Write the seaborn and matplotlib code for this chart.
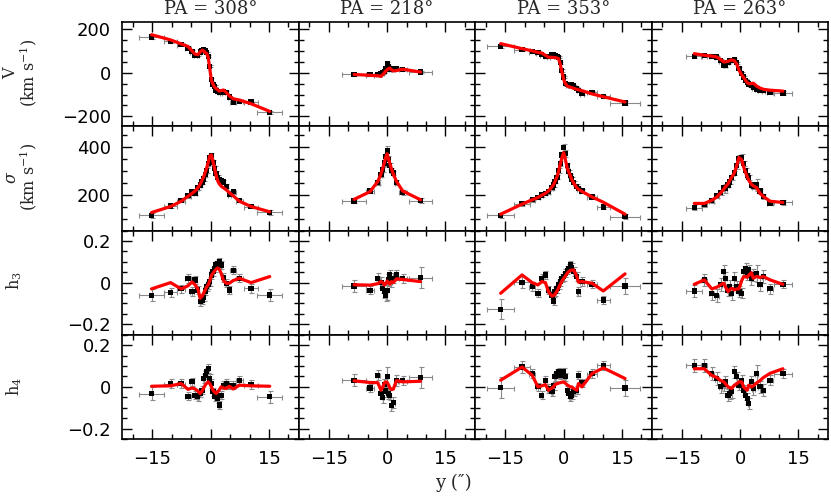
import numpy as np
import matplotlib
matplotlib.use("Agg")
import matplotlib.pyplot as plt
import seaborn as sns
from matplotlib.ticker import FixedLocator, MultipleLocator

# Column titles (position angles)
pa_labels = ["PA = 308°", "PA = 218°", "PA = 353°", "PA = 263°"]

# ---- PA = 308 ----
y_308 = [-15.2, -10.3, -7.6, -5.8, -4.8, -4.0, -3.3, -2.7, -2.2, -1.8, -1.4, -1.0, -0.6, -0.2,
         0.2, 0.6, 1.0, 1.4, 1.8, 2.2, 2.7, 3.3, 4.0, 4.8, 5.8, 7.4, 10.4, 15.2]
dy_308 = [3.2, 1.7, 1.0, 0.7, 0.45, 0.4, 0.3, 0.25, 0.2, 0.2, 0.2, 0.2, 0.2, 0.2,
          0.2, 0.2, 0.2, 0.2, 0.2, 0.2, 0.25, 0.3, 0.4, 0.45, 0.7, 1.0, 1.7, 3.2]
v_308 = [163, 143, 128, 112, 97, 80, 80, 95, 102, 106, 100, 92, 75, 30,
         -30, -55, -62, -80, -86, -88, -92, -85, -90, -111, -134, -130, -134, -181]
vmod_308 = [174, 150, 132, 120, 100, 85, 82, 95, 103, 100, 92, 88, 68, 15,
            -35, -52, -66, -72, -78, -84, -82, -79, -90, -106, -119, -125, -142, -177]
verr_308 = [8, 6, 5, 5, 5, 5, 5, 5, 5, 5, 5, 5, 5, 6, 6, 5, 5, 5, 5, 5, 5, 5, 5, 5, 5, 5, 6, 8]
s_308 = [114, 152, 175, 195, 212, 205, 228, 240, 252, 265, 282, 300, 328, 355,
         362, 335, 310, 288, 272, 262, 258, 252, 235, 200, 212, 175, 150, 126]
smod_308 = [125, 150, 172, 193, 205, 215, 228, 243, 260, 274, 292, 312, 336, 362,
            365, 338, 310, 282, 258, 245, 235, 228, 220, 208, 195, 172, 150, 128]
serr_308 = [10, 8, 8, 8, 8, 8, 8, 8, 8, 8, 9, 10, 10, 12, 12, 10, 10, 9, 8, 8, 8, 8, 8, 8, 8, 8, 8, 10]
h3_308 = [-0.06, -0.046, -0.03, 0.02, -0.043, 0.013, -0.035, -0.09, -0.083, -0.07, -0.04, -0.02, -0.01, 0.005,
          0.037, 0.053, 0.069, 0.085, 0.093, 0.1, 0.085, 0.025, -0.003, -0.035, 0.06, 0.021, -0.027, -0.059]
h3mod_308 = [-0.03, 0.0, -0.03, -0.015, 0.003, -0.01, -0.03, -0.075, -0.065, -0.05, -0.035, -0.02, -0.01, 0.01,
             0.035, 0.045, 0.055, 0.065, 0.07, 0.065, 0.045, 0.01, -0.003, -0.003, 0.01, 0.021, 0.0, 0.029]
h4_308 = [-0.032, 0.016, 0.016, -0.045, 0.024, -0.04, -0.048, -0.03, -0.016, 0.04, 0.056, 0.072, 0.088, 0.04,
          0.016, -0.024, -0.048, -0.035, -0.056, -0.087, -0.04, 0.008, 0.016, 0.008, 0.008, 0.032, 0.01, -0.048]
h4mod_308 = [0.003, 0.005, 0.016, -0.012, -0.005, -0.01, -0.02, -0.032, -0.02, -0.005, 0.008, 0.018, 0.024, 0.015,
             0.0, -0.016, -0.025, -0.032, -0.025, -0.015, 0.0, -0.005, -0.008, 0.003, -0.01, 0.008, 0.005, 0.003]
herr_308 = [0.03, 0.022, 0.02, 0.02, 0.02, 0.02, 0.02, 0.02, 0.02, 0.02, 0.02, 0.02, 0.02, 0.02,
            0.02, 0.02, 0.02, 0.02, 0.02, 0.02, 0.02, 0.02, 0.02, 0.02, 0.02, 0.02, 0.022, 0.03]

# ---- PA = 218 ----
y_218 = [-8.5, -4.4, -2.4, -1.6, -1.1, -0.7, -0.35, 0.0, 0.35, 0.7, 1.1, 1.6, 2.4, 4.0, 8.6]
dy_218 = [3.1, 1.0, 0.5, 0.3, 0.2, 0.2, 0.2, 0.2, 0.2, 0.2, 0.2, 0.3, 0.5, 1.0, 3.0]
v_218 = [-8, -10, -8, -5, 0, 5, 18, 40, 28, 15, 18, 15, 20, 15, 3]
vmod_218 = [-8, -12, -14, -17, -8, 0, 8, 14, 18, 21, 14, 8, 10, 16, 3]
verr_218 = [6, 5, 5, 5, 5, 5, 6, 8, 6, 5, 5, 5, 5, 5, 6]
s_218 = [173, 215, 250, 282, 305, 332, 360, 382, 345, 320, 300, 290, 250, 210, 175]
smod_218 = [180, 212, 255, 285, 311, 335, 355, 370, 350, 330, 308, 285, 255, 215, 178]
serr_218 = [10, 10, 10, 10, 10, 12, 15, 20, 15, 12, 10, 10, 10, 10, 12]
h3_218 = [-0.016, -0.036, 0.02, 0.0, -0.027, -0.043, -0.059, -0.036, 0.013, 0.037, 0.005, 0.021, 0.037, 0.02, 0.023]
h3mod_218 = [-0.01, -0.012, -0.005, 0.005, 0.0, -0.012, -0.005, 0.008, 0.0, -0.008, 0.005, 0.0, 0.018, 0.015, 0.005]
h4_218 = [0.032, -0.005, 0.056, -0.03, -0.05, 0.01, -0.02, 0.05, -0.03, -0.04, -0.09, -0.075, 0.03, 0.03, 0.045]
h4mod_218 = [0.029, 0.021, 0.02, -0.016, 0.0, 0.02, 0.024, 0.022, 0.01, -0.005, -0.013, -0.01, 0.03, 0.024, 0.027]
herr_218 = [0.03, 0.02, 0.025, 0.025, 0.025, 0.03, 0.03, 0.045, 0.03, 0.025, 0.025, 0.025, 0.025, 0.02, 0.05]

# ---- PA = 353 ----
y_353 = [-16.2, -10.7, -8.1, -6.6, -5.6, -4.7, -3.9, -3.0, -2.6, -2.2, -1.7, -1.3, -0.9, -0.5,
         0.0, 0.4, 0.9, 1.3, 1.7, 2.1, 2.6, 3.4, 3.8, 4.7, 7.3, 10.2, 15.8]
dy_353 = [3.4, 2.0, 0.8, 0.5, 0.4, 0.4, 0.4, 0.3, 0.2, 0.2, 0.2, 0.2, 0.2, 0.2,
          0.2, 0.2, 0.2, 0.2, 0.2, 0.2, 0.3, 0.3, 0.4, 0.5, 1.2, 1.7, 3.8]
v_353 = [120, 105, 97, 92, 82, 75, 73, 84, 82, 78, 75, 70, 45, 10,
         -20, -48, -55, -55, -58, -56, -60, -72, -80, -96, -89, -108, -139]
vmod_353 = [133, 110, 100, 93, 90, 80, 71, 70, 70, 69, 67, 64, 41, 8,
            -30, -48, -60, -64, -66, -68, -72, -76, -78, -82, -97, -110, -134]
verr_353 = [8, 6, 5, 5, 5, 5, 5, 5, 5, 5, 5, 5, 5, 6, 6, 5, 5, 5, 5, 5, 5, 5, 5, 5, 5, 6, 8]
s_353 = [114, 161, 178, 188, 198, 205, 212, 228, 240, 255, 272, 300, 330, 365,
         396, 370, 320, 295, 278, 265, 250, 235, 225, 215, 190, 148, 107]
smod_353 = [118, 160, 178, 188, 197, 205, 215, 232, 241, 255, 275, 297, 325, 350,
            375, 350, 311, 295, 280, 262, 248, 228, 222, 213, 190, 168, 118]
serr_353 = [10, 8, 8, 8, 8, 8, 8, 8, 8, 8, 9, 10, 12, 14, 16, 14, 10, 9, 8, 8, 8, 8, 8, 8, 8, 8, 10]
h3_353 = [-0.128, 0.002, -0.019, -0.051, 0.021, 0.037, -0.035, -0.059, -0.088, -0.043, -0.03, -0.011, 0.005, 0.021,
          0.03, 0.045, 0.06, 0.069, 0.085, 0.073, 0.053, 0.029, -0.043, 0.005, -0.008, -0.083, -0.016]
h3mod_353 = [-0.051, 0.037, 0.0, -0.011, 0.005, 0.0, -0.043, -0.065, -0.062, -0.055, -0.04, -0.025, -0.01, 0.005,
             0.02, 0.03, 0.045, 0.053, 0.058, 0.06, 0.061, 0.03, 0.002, 0.005, -0.003, -0.04, 0.042]
h4_353 = [-0.003, 0.095, 0.064, 0.0, -0.04, 0.032, -0.008, -0.024, 0.005, 0.048, 0.064, 0.072, 0.056, 0.064,
          0.072, 0.048, -0.016, -0.032, -0.048, -0.04, -0.024, -0.016, 0.056, 0.02, 0.064, 0.103, -0.005]
h4mod_353 = [0.032, 0.095, 0.056, 0.0, 0.005, 0.011, -0.016, -0.005, 0.0, 0.011, 0.015, 0.018, 0.02, 0.022,
             0.024, 0.018, 0.01, 0.005, 0.0, 0.0, -0.008, -0.016, 0.016, 0.0, 0.064, 0.091, 0.04]
herr_353 = [0.048, 0.03, 0.02, 0.02, 0.02, 0.02, 0.02, 0.02, 0.02, 0.02, 0.02, 0.02, 0.02, 0.02,
            0.02, 0.02, 0.02, 0.02, 0.02, 0.02, 0.02, 0.02, 0.02, 0.02, 0.02, 0.02, 0.04]

# ---- PA = 263 ----
y_263 = [-11.8, -9.2, -7.3, -6.0, -5.0, -4.2, -3.8, -3.1, -2.7, -2.2, -1.5, -0.9, -0.3,
         0.4, 0.9, 1.4, 1.8, 2.2, 2.9, 3.4, 4.3, 5.1, 6.0, 7.7, 11.0]
dy_263 = [2.1, 0.8, 0.6, 0.5, 0.4, 0.3, 0.3, 0.3, 0.2, 0.2, 0.2, 0.2, 0.2,
          0.2, 0.2, 0.2, 0.2, 0.2, 0.3, 0.3, 0.4, 0.4, 0.5, 0.8, 2.4]
v_263 = [75, 78, 75, 72, 55, 35, 33, 48, 55, 57, 60, 45, 20,
         -5, -20, -35, -45, -52, -58, -69, -75, -80, -82, -88, -93]
vmod_263 = [87, 80, 76, 72, 60, 49, 50, 52, 55, 59, 55, 40, 12,
            -10, -22, -35, -45, -50, -50, -48, -62, -70, -76, -80, -84]
verr_263 = [7, 6, 6, 6, 6, 6, 6, 6, 6, 6, 6, 6, 6, 6, 6, 6, 6, 6, 6, 6, 6, 6, 6, 6, 7]
s_263 = [145, 159, 175, 195, 210, 228, 225, 240, 252, 270, 290, 320, 350,
         355, 330, 300, 280, 270, 240, 232, 240, 215, 192, 165, 168]
smod_263 = [163, 163, 176, 190, 207, 223, 232, 245, 258, 272, 290, 320, 355,
            345, 315, 292, 275, 260, 243, 236, 228, 205, 192, 172, 167]
serr_263 = [10, 10, 10, 10, 10, 10, 20, 10, 10, 10, 10, 12, 14, 14, 12, 10, 10, 10, 10, 10, 25, 10, 10, 10, 10]
h3_263 = [-0.04, 0.013, -0.051, -0.062, -0.01, 0.053, 0.021, -0.035, -0.019, -0.051, 0.021, -0.019, -0.043,
          -0.051, 0.053, 0.069, 0.037, 0.061, 0.021, 0.037, 0.045, -0.008, 0.029, -0.03, -0.008]
h3mod_263 = [-0.008, 0.013, -0.03, -0.022, -0.01, -0.003, -0.02, -0.043, -0.035, -0.027, -0.035, -0.03, -0.03,
             0.01, 0.029, 0.028, 0.026, 0.035, 0.048, 0.021, 0.03, 0.025, 0.029, 0.013, -0.008]
h4_263 = [0.103, 0.103, 0.064, 0.04, 0.0, 0.01, 0.024, -0.04, -0.03, -0.024, 0.072, 0.048, 0.008,
          0.03, -0.016, -0.04, -0.056, -0.08, 0.024, -0.008, 0.064, 0.0, -0.016, 0.032, 0.064]
h4mod_263 = [0.087, 0.087, 0.055, 0.045, 0.03, 0.024, 0.015, 0.0, -0.003, -0.008, 0.008, 0.015, 0.024,
             0.024, 0.0, -0.01, -0.016, 0.008, 0.0, 0.005, 0.02, 0.03, 0.045, 0.065, 0.087]
herr_263 = [0.03, 0.03, 0.03, 0.03, 0.03, 0.03, 0.03, 0.03, 0.03, 0.03, 0.03, 0.025, 0.025,
            0.025, 0.025, 0.025, 0.025, 0.025, 0.03, 0.03, 0.04, 0.03, 0.03, 0.025, 0.02]

columns = [
    (y_308, dy_308, [(v_308, verr_308, vmod_308), (s_308, serr_308, smod_308),
                     (h3_308, herr_308, h3mod_308), (h4_308, herr_308, h4mod_308)]),
    (y_218, dy_218, [(v_218, verr_218, vmod_218), (s_218, serr_218, smod_218),
                     (h3_218, herr_218, h3mod_218), (h4_218, herr_218, h4mod_218)]),
    (y_353, dy_353, [(v_353, verr_353, vmod_353), (s_353, serr_353, smod_353),
                     (h3_353, herr_353, h3mod_353), (h4_353, herr_353, h4mod_353)]),
    (y_263, dy_263, [(v_263, verr_263, vmod_263), (s_263, serr_263, smod_263),
                     (h3_263, herr_263, h3mod_263), (h4_263, herr_263, h4mod_263)]),
]

# y limits and ticks per row
row_lims = [(-245, 232), (50, 485), (-0.25, 0.25), (-0.25, 0.25)]
row_major = [[-200, 0, 200], [200, 400], [-0.2, 0, 0.2], [-0.2, 0, 0.2]]
row_minor = [50, 50, 0.05, 0.05]
row_fmt = [lambda v: f"{v:.0f}", lambda v: f"{v:.0f}",
           lambda v: "0" if v == 0 else f"{v:.1f}", lambda v: "0" if v == 0 else f"{v:.1f}"]

sns.set_theme(style="ticks")
plt.rcParams['font.family'] = 'DejaVu Sans'
plt.rcParams['mathtext.fontset'] = 'dejavuserif'
plt.rcParams['axes.unicode_minus'] = True

fig, axes = plt.subplots(4, 4, figsize=(8.31, 4.96), dpi=100)
fig.subplots_adjust(left=122/831, right=828/831, top=1-22/496, bottom=1-439/496,
                    wspace=0, hspace=0)

for c, (yy, dyy, rows) in enumerate(columns):
    for r, (vals, errs, mods) in enumerate(rows):
        ax = axes[r, c]
        ax.errorbar(yy, vals, xerr=dyy, yerr=errs, fmt='none', ecolor='#8a8a8a',
                    elinewidth=0.8, capsize=1.8, capthick=0.8, zorder=2)
        sns.scatterplot(x=yy, y=vals, ax=ax, marker='s', s=14, color='black',
                        edgecolor='none', zorder=3, legend=False)
        sns.lineplot(x=yy, y=mods, ax=ax, color='red', lw=2.3, sort=False,
                     estimator=None, zorder=4, legend=False)
        ax.set_xlim(-22.8, 22.6)
        ax.set_ylim(*row_lims[r])
        ax.xaxis.set_major_locator(FixedLocator([-15, 0, 15]))
        ax.xaxis.set_minor_locator(MultipleLocator(5))
        ax.yaxis.set_major_locator(FixedLocator(row_major[r]))
        ax.yaxis.set_minor_locator(MultipleLocator(row_minor[r]))
        ax.tick_params(which='both', direction='in', top=True, right=True,
                       colors='black', width=1.0, labelsize=13)
        ax.tick_params(which='major', length=7)
        ax.tick_params(which='minor', length=3.5)
        ax.tick_params(axis='y', pad=8)
        ax.tick_params(axis='x', pad=8)
        for sp in ax.spines.values():
            sp.set_linewidth(1.2)
            sp.set_color('black')
        ax.set_xlabel('')
        ax.set_ylabel('')
        if c == 0:
            ax.set_yticklabels([row_fmt[r](v).replace('-', '\u2212') for v in row_major[r]])
        else:
            ax.set_yticklabels([])
        if r == 3:
            ax.set_xticklabels(['\u221215', '0', '15'])
        else:
            ax.set_xticklabels([])
        if r == 0:
            ax.set_title(pa_labels[c], fontsize=13, family='DejaVu Serif', pad=6)

# row labels (two-line labels as one rotated text each)
lab = dict(rotation=90, ha='center', va='center', fontsize=11.5, family='DejaVu Serif',
           multialignment='center', linespacing=0.9)
fig.text(21/831, 1-73/496, 'V\n(km s$^{-1}$)', **lab)
fig.text(21/831, 1-177/496, '$\\sigma$\n(km s$^{-1}$)', **lab)
fig.text(14/831, 1-281/496, 'h$_3$', **lab)
fig.text(14/831, 1-386/496, 'h$_4$', **lab)
fig.text(453/831, 1-483/496, 'y (\u2033)', ha='center', va='center', fontsize=13,
         family='DejaVu Serif')

fig.savefig('out.png', dpi=100)
